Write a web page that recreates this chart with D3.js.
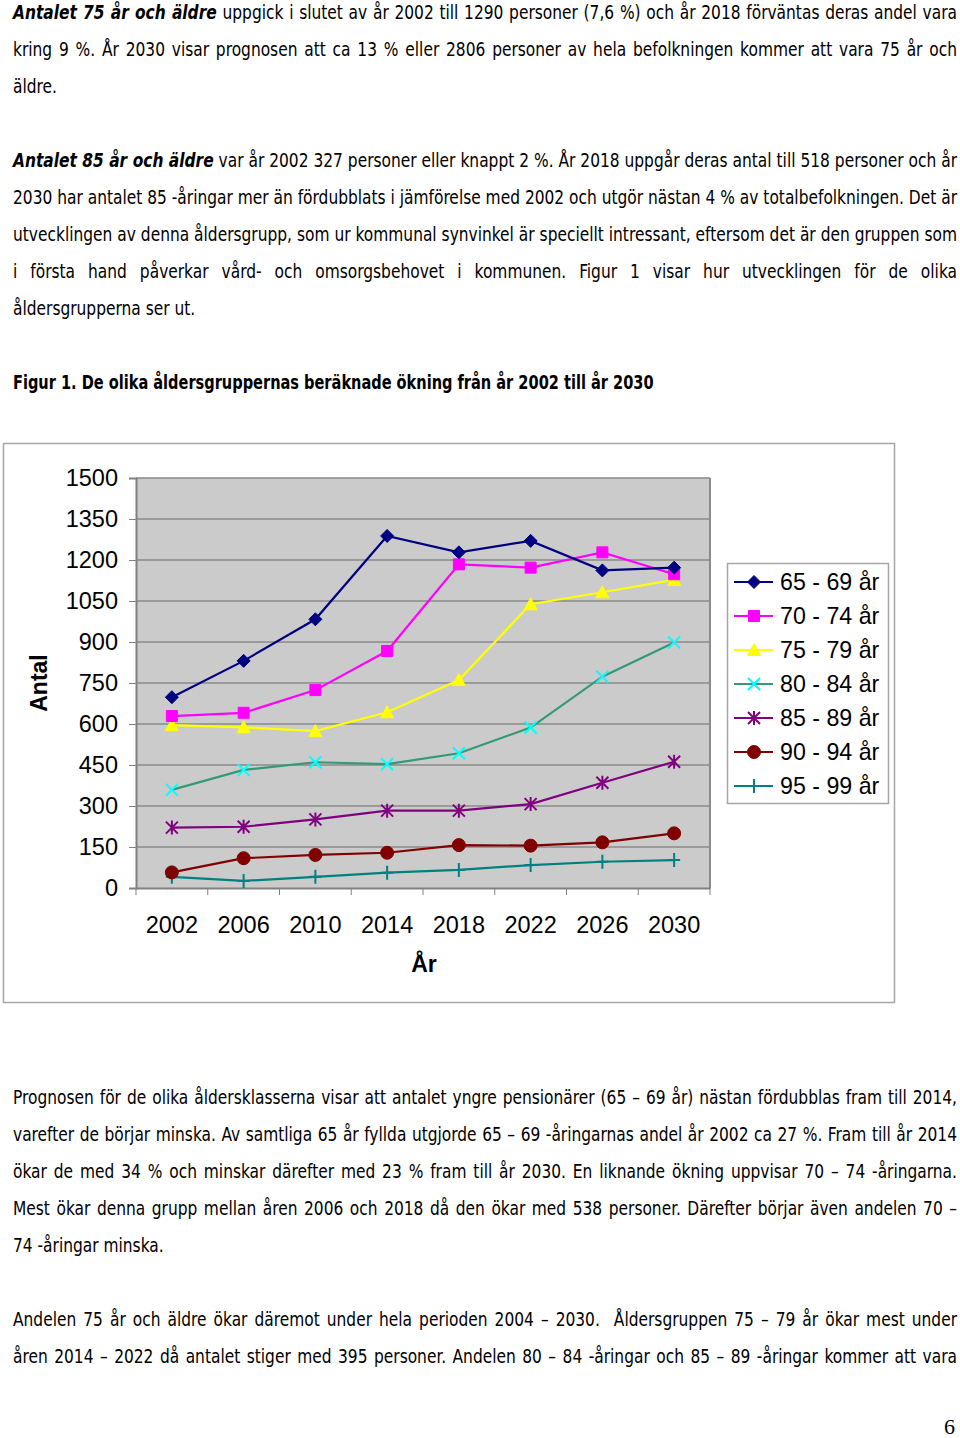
<!DOCTYPE html>
<html>
<head>
<meta charset="utf-8">
<script src="https://cdn.jsdelivr.net/npm/d3@7"></script>
<style>
  html, body { margin: 0; padding: 0; background: #fff; }
  body { width: 960px; height: 1438px; position: relative; overflow: hidden; }
  .ln {
    position: absolute; left: 13px; height: 26px; line-height: 26px;
    font-family: "Liberation Sans Narrow", "Arial Narrow", "DejaVu Sans Condensed", sans-serif;
    font-stretch: condensed; font-size: 19.5px; color: #000; white-space: nowrap;
    transform-origin: 0 50%;
  }
  .j { text-align: justify; text-align-last: justify; }
  .bi { font-weight: bold; font-style: italic; }
  .b { font-weight: bold; }
  #chart { position: absolute; left: 0; top: 0; }
  .pg { position: absolute; left: 944px; top: 1414px; font-family: "Liberation Serif", "DejaVu Serif", serif; font-size: 22px; }
</style>
</head>
<body>
<div id="text"></div>
<svg id="chart" width="960" height="1438"></svg>
<div class="pg">6</div>
<script>
// ---------------- data ----------------
const years = ["2002", "2006", "2010", "2014", "2018", "2022", "2026", "2030"];
const seriesNames = ["65 - 69 år", "70 - 74 år", "75 - 79 år", "80 - 84 år", "85 - 89 år", "90 - 94 år", "95 - 99 år"];
const v65_69 = [698, 831, 983, 1288, 1228, 1270, 1162, 1172];
const v70_74 = [629, 641, 724, 867, 1184, 1172, 1228, 1148];
const v75_79 = [596, 588, 574, 643, 761, 1038, 1082, 1127];
const v80_84 = [359, 432, 460, 453, 493, 587, 773, 898];
const v85_89 = [221, 224, 251, 283, 283, 307, 385, 462];
const v90_94 = [57, 109, 121, 129, 157, 155, 167, 200];
const v95_99 = [41, 26, 41, 56, 66, 84, 96, 102];
const yTicks = [0, 150, 300, 450, 600, 750, 900, 1050, 1200, 1350, 1500];
const yTitle = "Antal";
const xTitle = "År";

// ---------------- text ----------------
const lines = [
  {y: 13, j: true, html: '<span class="bi">Antalet 75 år och äldre</span> uppgick i slutet av år 2002 till 1290 personer (7,6 %) och år 2018 förväntas deras andel vara'},
  {y: 50, j: true, html: 'kring 9 %. År 2030 visar prognosen att ca 13 % eller 2806 personer av hela befolkningen kommer att vara 75 år och'},
  {y: 87, j: false, html: 'äldre.'},
  {y: 161, j: true, html: '<span class="bi">Antalet 85 år och äldre</span> var år 2002 327 personer eller knappt 2 %. År 2018 uppgår deras antal till 518 personer och år'},
  {y: 198, j: true, html: '2030 har antalet 85 -åringar mer än fördubblats i jämförelse med 2002 och utgör nästan 4 % av totalbefolkningen. Det är'},
  {y: 235, j: true, html: 'utvecklingen av denna åldersgrupp, som ur kommunal synvinkel är speciellt intressant, eftersom det är den gruppen som'},
  {y: 272, j: true, html: 'i första hand påverkar vård- och omsorgsbehovet i kommunen. Figur 1 visar hur utvecklingen för de olika'},
  {y: 309, j: false, html: 'åldersgrupperna ser ut.'},
  {y: 383, j: false, k: 0.83, html: '<span class="b">Figur 1. De olika åldersgruppernas beräknade ökning från år 2002 till år 2030</span>'},
  {y: 1098, j: true, html: 'Prognosen för de olika åldersklasserna visar att antalet yngre pensionärer (65 – 69 år) nästan fördubblas fram till 2014,'},
  {y: 1135, j: true, html: 'varefter de börjar minska. Av samtliga 65 år fyllda utgjorde 65 – 69 -åringarnas andel år 2002 ca 27 %. Fram till år 2014'},
  {y: 1172, j: true, html: 'ökar de med 34 % och minskar därefter med 23 % fram till år 2030. En liknande ökning uppvisar 70 – 74 -åringarna.'},
  {y: 1209, j: true, html: 'Mest ökar denna grupp mellan åren 2006 och 2018 då den ökar med 538 personer. Därefter börjar även andelen 70 –'},
  {y: 1246, j: false, html: '74 -åringar minska.'},
  {y: 1320, j: true, html: 'Andelen 75 år och äldre ökar däremot under hela perioden 2004 – 2030.&nbsp; Åldersgruppen 75 – 79 år ökar mest under'},
  {y: 1357, j: true, html: 'åren 2014 – 2022 då antalet stiger med 395 personer. Andelen 80 – 84 -åringar och 85 – 89 -åringar kommer att vara'}
];
const textWidth = 944;
const tdiv = d3.select("#text");
lines.forEach(l => {
  let k = l.k || 0.88;
  const d = tdiv.append("div").attr("class", "ln" + (l.j ? " j" : ""))
    .style("top", (l.y - 13) + "px").style("width", (textWidth / k) + "px").html(l.html);
  const el = d.node();
  if (el.scrollWidth > el.clientWidth + 1) {
    k = textWidth / el.scrollWidth;
    d.style("width", el.scrollWidth + "px");
  }
  d.style("transform", "scaleX(" + k + ")");
});

// ---------------- chart ----------------
const svg = d3.select("#chart");
const plot = {x0: 136, x1: 710, y0: 478, y1: 888};
const x = d3.scaleBand().domain(years).range([plot.x0, plot.x1]);
const y = d3.scaleLinear().domain([0, 1500]).range([plot.y1, plot.y0]);
const chartFont = '"Liberation Sans", Arial, sans-serif';
const tickFontSize = 23.5;

// outer frame
svg.append("rect").attr("x", 3.5).attr("y", 443.5).attr("width", 891).attr("height", 559)
  .attr("fill", "#fff").attr("stroke", "#a6a6a6").attr("stroke-width", 1.5);

// plot background
svg.append("rect").attr("x", plot.x0).attr("y", plot.y0)
  .attr("width", plot.x1 - plot.x0).attr("height", plot.y1 - plot.y0)
  .attr("fill", "#cbcbcb");

// gridlines
svg.append("g").selectAll("line").data(yTicks.filter(t => t > 0)).join("line")
  .attr("x1", plot.x0).attr("x2", plot.x1)
  .attr("y1", d => y(d)).attr("y2", d => y(d))
  .attr("stroke", "#8a8a8a").attr("stroke-width", 1.5);

// right border of plot
svg.append("line").attr("x1", plot.x1).attr("x2", plot.x1).attr("y1", plot.y0).attr("y2", plot.y1)
  .attr("stroke", "#8a8a8a").attr("stroke-width", 2);

// y axis
const yAxis = d3.axisLeft(y).tickValues(yTicks).tickFormat(d3.format("d")).tickSize(7).tickPadding(11);
const gy = svg.append("g").attr("transform", `translate(${plot.x0},0)`).call(yAxis);
gy.select(".domain").attr("stroke", "#808080").attr("stroke-width", 2);
gy.selectAll(".tick line").attr("stroke", "#808080").attr("stroke-width", 1);
gy.selectAll(".tick text").attr("font-family", chartFont).attr("font-size", tickFontSize).attr("fill", "#000");

// x axis
const xAxis = d3.axisBottom(x).tickSize(0).tickPadding(28);
const gx = svg.append("g").attr("transform", `translate(0,${plot.y1})`).call(xAxis);
gx.select(".domain").attr("stroke", "#808080").attr("stroke-width", 2);
gx.selectAll(".tick text").attr("font-family", chartFont).attr("font-size", tickFontSize).attr("fill", "#000");
// category boundary ticks
const bounds = years.map(d => x(d)).concat([x(years[years.length - 1]) + x.bandwidth()]);
svg.append("g").selectAll("line").data(bounds).join("line")
  .attr("x1", d => d).attr("x2", d => d).attr("y1", plot.y1).attr("y2", plot.y1 + 7)
  .attr("stroke", "#808080").attr("stroke-width", 1);

// axis titles
svg.append("text").attr("x", 424).attr("y", 972).attr("text-anchor", "middle")
  .attr("font-family", chartFont).attr("font-weight", "bold").attr("font-size", 23).text(xTitle);
svg.append("text").attr("transform", "translate(47,683) rotate(-90)").attr("text-anchor", "middle")
  .attr("font-family", chartFont).attr("font-weight", "bold").attr("font-size", 23).text(yTitle);

// marker shapes
const markers = {
  diamond: g => g.append("path").attr("d", "M0,-6.5L6.5,0L0,6.5L-6.5,0Z"),
  square: g => g.append("path").attr("d", "M-5.5,-5.5H5.5V5.5H-5.5Z"),
  triangle: g => g.append("path").attr("d", "M0,-6.5L6.5,5.5H-6.5Z"),
  times: g => g.append("path").attr("d", "M-6,-6L6,6M-6,6L6,-6").attr("fill", "none"),
  asterisk: g => g.append("path").attr("d", "M-6,-6L6,6M-6,6L6,-6M0,-7V7").attr("fill", "none"),
  circle: g => g.append("circle").attr("r", 6.5),
  plus: g => g.append("path").attr("d", "M0,-7V7M-6,0H6").attr("fill", "none")
};

const series = [
  {name: seriesNames[0], values: v65_69, line: "#000080", mark: "#000080", shape: "diamond"},
  {name: seriesNames[1], values: v70_74, line: "#ff00ff", mark: "#ff00ff", shape: "square"},
  {name: seriesNames[2], values: v75_79, line: "#ffff00", mark: "#ffff00", shape: "triangle"},
  {name: seriesNames[3], values: v80_84, line: "#339977", mark: "#00ffff", shape: "times"},
  {name: seriesNames[4], values: v85_89, line: "#800080", mark: "#800080", shape: "asterisk"},
  {name: seriesNames[5], values: v90_94, line: "#800000", mark: "#800000", shape: "circle"},
  {name: seriesNames[6], values: v95_99, line: "#008080", mark: "#008080", shape: "plus"}
];

const lineGen = d3.line().x((d, i) => x(years[i]) + x.bandwidth() / 2).y(d => y(d));

function drawMarker(g, s) {
  const m = markers[s.shape](g);
  if (["times", "asterisk", "plus"].includes(s.shape)) {
    m.attr("stroke", s.mark).attr("stroke-width", 2);
  } else {
    m.attr("fill", s.mark).attr("stroke", s.mark).attr("stroke-width", 1);
  }
}

series.slice().reverse().forEach(s => {
  svg.append("path").datum(s.values).attr("d", lineGen)
    .attr("fill", "none").attr("stroke", s.line).attr("stroke-width", 2.2);
  s.values.forEach((v, i) => {
    const g = svg.append("g").attr("transform", `translate(${x(years[i]) + x.bandwidth() / 2},${y(v)})`);
    drawMarker(g, s);
  });
});

// legend
svg.append("rect").attr("x", 727.5).attr("y", 563.5).attr("width", 161).attr("height", 240)
  .attr("fill", "#fff").attr("stroke", "#a6a6a6").attr("stroke-width", 1.5);
const legY = d3.scalePoint().domain(seriesNames).range([582, 786]);
series.forEach(s => {
  const ly = legY(s.name);
  svg.append("line").attr("x1", 734).attr("x2", 773).attr("y1", ly).attr("y2", ly)
    .attr("stroke", s.line).attr("stroke-width", 2.2);
  const g = svg.append("g").attr("transform", `translate(754,${ly})`);
  drawMarker(g, s);
  svg.append("text").attr("x", 780).attr("y", ly).attr("dy", "0.36em")
    .attr("font-family", chartFont).attr("font-size", 23.2).attr("fill", "#000").text(s.name);
});
</script>
</body>
</html>
